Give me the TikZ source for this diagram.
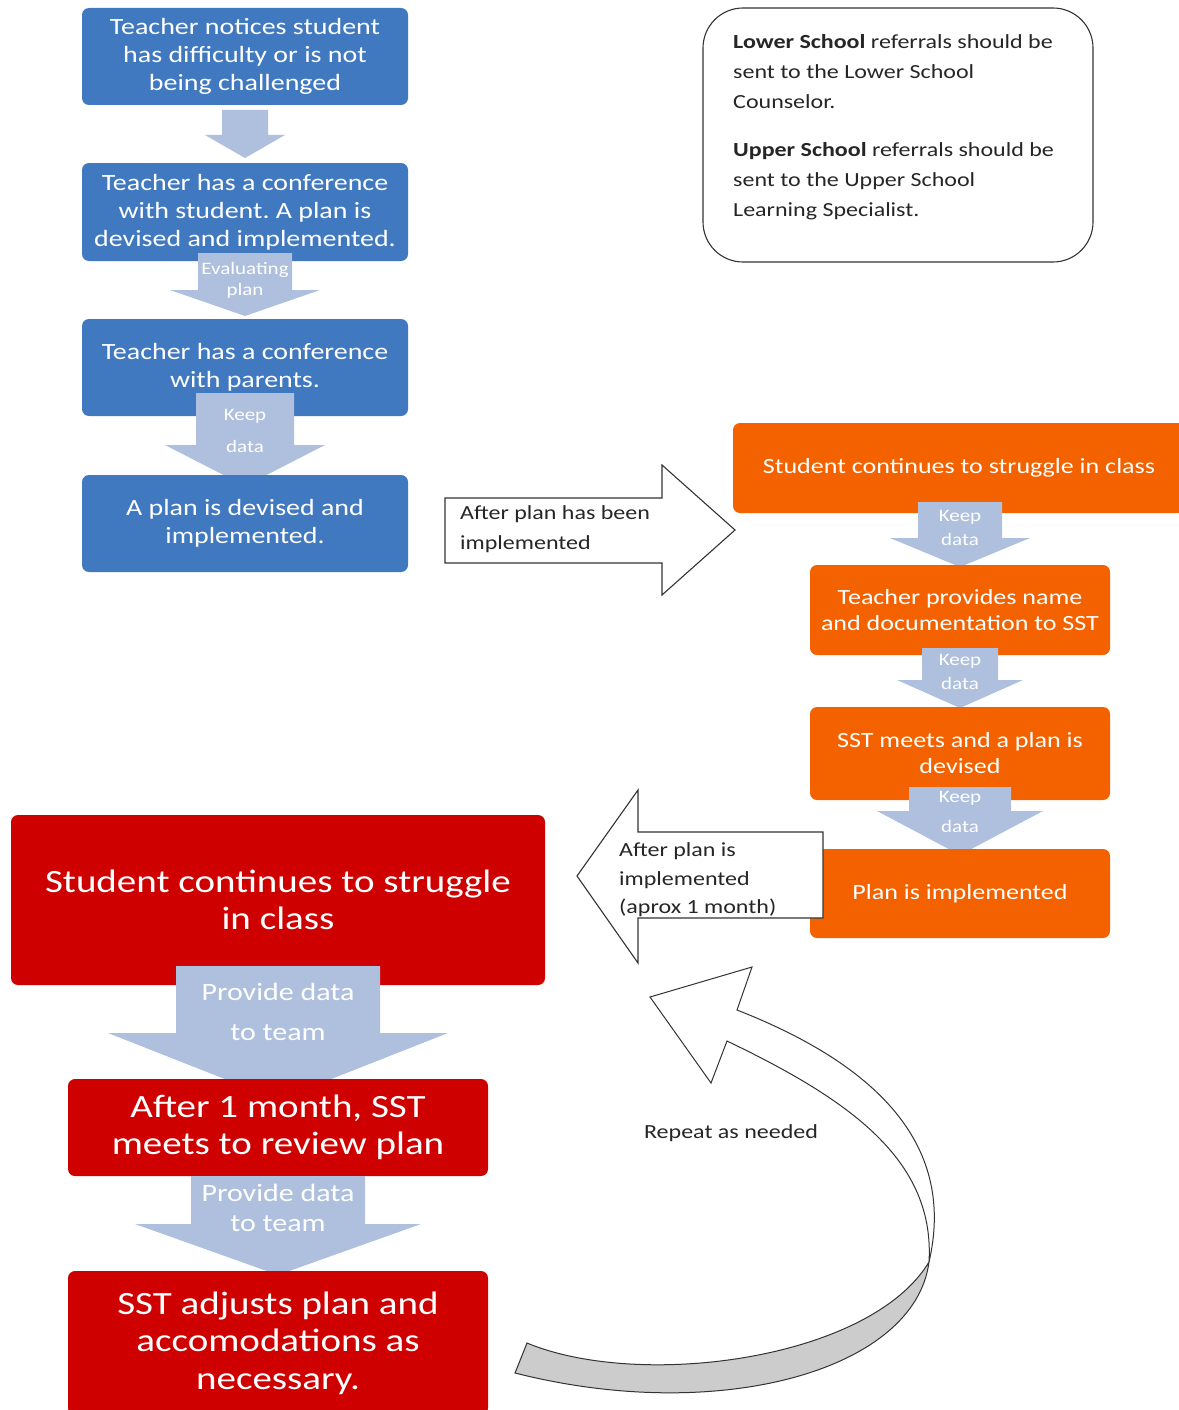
\documentclass[tikz,border=0pt]{standalone}
\usepackage{fontspec}
\setmainfont[FakeStretch=1.2]{Carlito}
\definecolor{bbox}{HTML}{4179C0}
\definecolor{obox}{HTML}{F46200}
\definecolor{rbox}{HTML}{CF0000}
\definecolor{arrowblue}{HTML}{AEC0DD}
\definecolor{bandgray}{HTML}{CCCCCC}
\definecolor{edge}{HTML}{333333}
\newcommand{\downarr}[6]{%
  \fill[arrowblue] (#1-#3,#2) -- (#1+#3,#2) -- (#1+#3,#4) -- (#1+#5,#4) -- (#1,#6) -- (#1-#5,#4) -- (#1-#3,#4) -- cycle;}
\frenchspacing
\begin{document}
\begin{tikzpicture}[x=1pt,y=-1pt,
  box/.style={rounded corners=7pt, inner sep=0pt, text=white, align=center},
  bluebox/.style={box, fill=bbox, minimum width=326pt, font=\fontsize{23.3}{28}\selectfont},
  orangebox/.style={box, fill=obox, minimum width=300pt, font=\fontsize{21.7}{26}\selectfont},
  redbox/.style={box, fill=rbox, minimum width=420pt, font=\fontsize{32.5}{37.5}\selectfont},
  arrtext/.style={text=white, inner sep=0pt},
  keeptext/.style={arrtext, font=\fontsize{17.5}{20}\selectfont},
  provtext/.style={arrtext, font=\fontsize{25}{30}\selectfont},
  outl/.style={draw=edge, line width=1.1pt, line join=miter},
  plain/.style={text=black!85, inner sep=0pt, align=left}]
\useasboundingbox (0,0) rectangle (1178,1410);
\fill[white] (0,0) rectangle (1178,1410);

% ---------- blue column ----------
\node[bluebox, minimum height=97pt] (b1) at (245,56.5) {Teacher notices student\\has difficulty or is not\\being challenged};
\downarr{245}{110}{23}{135}{40}{158}
\node[bluebox, minimum height=98pt] (b2) at (245,212) {Teacher has a conference\\with student. A plan is\\devised and implemented.};
\downarr{245}{253}{47}{290}{75}{316}
\node[arrtext, font=\fontsize{17.5}{20}\selectfont] (t2a) at (245,270) {Evaluating};
\node[arrtext, font=\fontsize{17.5}{20}\selectfont] (t2b) at (245,291) {plan};
\node[bluebox, minimum height=97pt] (b3) at (245,367.5) {Teacher has a conference\\with parents.};
\downarr{245}{393}{49}{445}{80}{486}
\node[keeptext] (t3a) at (245,416) {Keep};
\node[keeptext] (t3b) at (245,446) {data};
\node[bluebox, minimum height=97pt] (b4) at (245,523.5) {A plan is devised and\\implemented.};

% ---------- info box ----------
\node[draw=edge, line width=1.1pt, rounded corners=40pt, minimum width=390pt, minimum height=254pt] (info) at (898,135) {};
\node[plain, anchor=north west, font=\fontsize{20}{30}\selectfont] (infotext) at (733,34) {\textbf{Lower School} referrals should be\\sent to the Lower School\\Counselor.\\[18pt]\textbf{Upper School} referrals should be\\sent to the Upper School\\Learning Specialist.};

% ---------- right arrow ----------
\draw[outl, fill=white] (445,498) -- (662,498) -- (662,465) -- (735,530) -- (662,595) -- (662,563) -- (445,563) -- cycle;
\node[plain, anchor=west, font=\fontsize{20}{30}\selectfont] (rtext) at (460,529) {After plan has been\\implemented};

% ---------- orange column ----------
\node[box, fill=obox, minimum width=452pt, minimum height=90pt, font=\fontsize{21.7}{26}\selectfont] (o1) at (959,468) {Student continues to struggle in class};
\downarr{960}{502}{42}{538}{70}{567}
\node[keeptext] (to1a) at (960,517) {Keep};
\node[keeptext] (to1b) at (960,539) {data};
\node[orangebox, minimum height=90pt] (o2) at (960,610) {Teacher provides name\\and documentation to SST};
\downarr{960}{648}{38}{680}{63}{708}
\node[keeptext] (to2a) at (960,661) {Keep};
\node[keeptext] (to2b) at (960,683) {data};
\node[orangebox, minimum height=93pt] (o3) at (960,753.5) {SST meets and a plan is\\devised};
\downarr{960}{787}{51}{811}{83}{855}
\node[keeptext] (to3a) at (960,798) {Keep};
\node[keeptext] (to3b) at (960,826) {data};
\node[orangebox, minimum height=89pt] (o4) at (960,893.5) {Plan is implemented};

% ---------- left arrow ----------
\draw[outl, fill=white] (823,832) -- (638,832) -- (638,790) -- (577,876) -- (638,963) -- (638,918) -- (823,918) -- cycle;
\node[plain, anchor=west, font=\fontsize{20}{28.5}\selectfont] (ltext) at (619,880) {After plan is\\implemented\\(aprox 1 month)};

% ---------- red column ----------
\node[box, fill=rbox, minimum width=534pt, minimum height=170pt, font=\fontsize{32.5}{36.5}\selectfont] (r1) at (278,900) {Student continues to struggle\\in class};
\downarr{278}{966}{102}{1033}{170}{1100}
\node[provtext] (tr1a) at (278,992) {Provide data};
\node[provtext] (tr1b) at (278,1033) {to team};
\node[redbox, minimum height=97pt] (r2) at (278,1127.5) {After 1 month, SST\\meets to review plan};
\downarr{278}{1176}{87}{1224}{143}{1275}
\node[provtext] (tr2a) at (278,1193) {Provide data};
\node[provtext] (tr2b) at (278,1224) {to team};
\node[redbox, minimum height=144pt] (r3) at (278,1343) {SST adjusts plan and\\accomodations as\\necessary.};

% ---------- curved arrow ----------
\coordinate (X) at (929,1262);
\draw[outl, line width=1pt, fill=bandgray] (527,1343) .. controls (640,1390) and (870,1360) .. (X)
   .. controls (915,1370) and (720,1425) .. (515,1373) -- cycle;
\draw[outl, line width=1pt, fill=white] (X) .. controls (955,1150) and (885,1068) .. (737,1010)
   -- (752,967) -- (650,997) -- (711,1083) -- (727,1041)
   .. controls (850,1100) and (935,1160) .. (X);
\node[plain, font=\fontsize{20}{24}\selectfont] (rep) at (731,1133) {Repeat as needed};
\end{tikzpicture}
\end{document}
